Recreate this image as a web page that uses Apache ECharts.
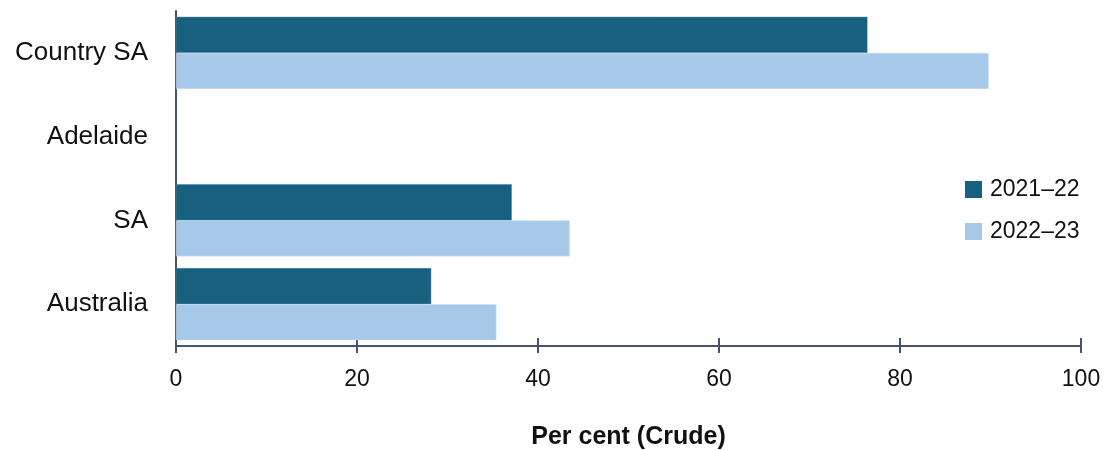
<!DOCTYPE html>
<html>
<head>
<meta charset="utf-8">
<script src="https://cdn.jsdelivr.net/npm/echarts@6/dist/echarts.min.js"></script>
<style>html,body{margin:0;padding:0;background:#fff}#c{width:1106px;height:450px}</style>
</head>
<body>
<div id="c"></div>
<script>
const categories = ["Country SA", "Adelaide", "SA", "Australia"];
const seriesNames = ["2021–22", "2022–23"];
const values2021 = [76.4, null, 37.1, 28.2];
const values2022 = [89.8, null, 43.5, 35.4];
const xTicks = [0, 20, 40, 60, 80, 100];

const axisColor = "#44546a";
const font = "Liberation Sans, Arial, sans-serif";
const chart = echarts.init(document.getElementById("c"), null, {renderer: "canvas"});
chart.setOption({
  animation: false,
  backgroundColor: "#fff",
  grid: {left: 176, top: 11, width: 905, height: 335, containLabel: false, outerBoundsMode: "none"},
  legend: {
    orient: "vertical", left: 960, top: 173, itemWidth: 17, itemHeight: 17, itemGap: 19,
    icon: "rect",
    itemStyle: {borderWidth: 0},
    textStyle: {fontFamily: font, fontSize: 23, color: "#111", padding: [0, 0, 0, 3]},
    data: seriesNames
  },
  xAxis: [{
    type: "value", min: xTicks[0], max: xTicks[xTicks.length - 1], interval: 20,
    name: "Per cent (Crude)", nameLocation: "middle", nameGap: 79,
    nameTextStyle: {fontFamily: font, fontSize: 25, fontWeight: "bold", color: "#111"},
    axisLine: {show: true, lineStyle: {color: axisColor, width: 2}},
    axisTick: {show: true, length: 7, lineStyle: {color: axisColor, width: 2}},
    axisLabel: {fontFamily: font, fontSize: 23, color: "#111", margin: 22},
    splitLine: {show: false}
  }, {
    type: "value", position: "bottom", min: 0, max: 100, interval: 20,
    axisLine: {show: false},
    axisTick: {show: true, inside: true, length: 8, lineStyle: {color: axisColor, width: 2}},
    axisLabel: {show: false}, splitLine: {show: false}
  }],
  yAxis: {
    type: "category", inverse: true, data: categories,
    axisLine: {show: true, lineStyle: {color: axisColor, width: 2}},
    axisTick: {show: false},
    axisLabel: {fontFamily: font, fontSize: 26, color: "#111", margin: 28}
  },
  series: [{
    name: seriesNames[0], type: "bar", data: values2021, xAxisIndex: 0,
    barGap: "0%", barCategoryGap: "14%",
    itemStyle: {color: "#18607f", borderColor: "#4a7f99", borderWidth: 0.5}
  }, {
    name: seriesNames[1], type: "bar", data: values2022, xAxisIndex: 0,
    barGap: "0%", barCategoryGap: "14%",
    itemStyle: {color: "#a7c9e9", borderColor: "#c6dcf0", borderWidth: 0.5}
  }]
});
</script>
</body>
</html>
